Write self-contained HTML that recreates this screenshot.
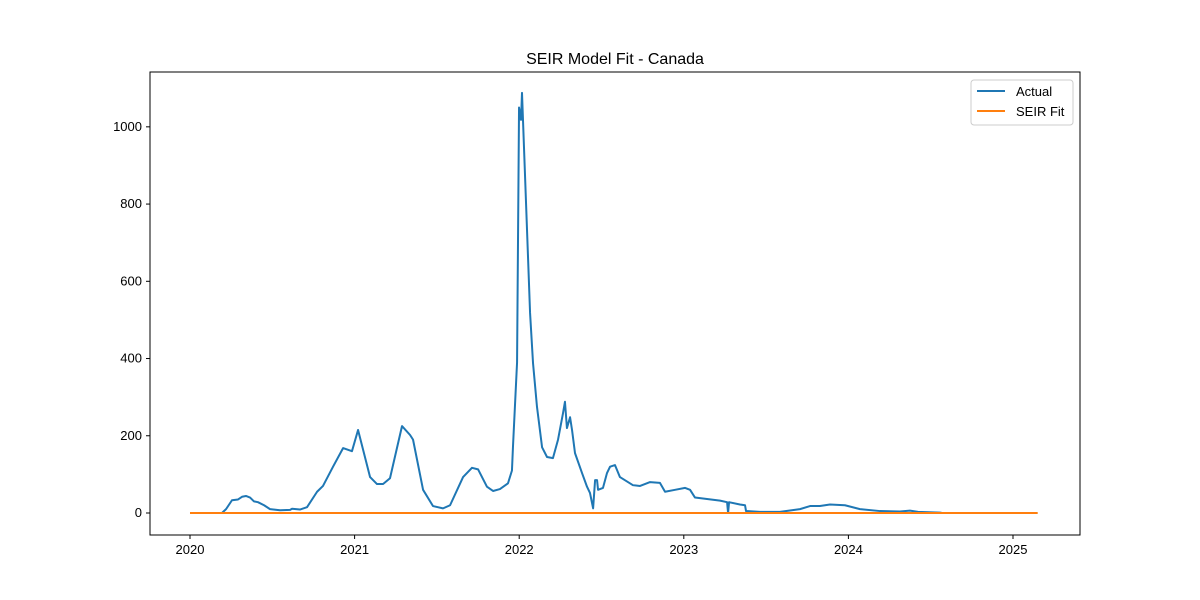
<!DOCTYPE html>
<html><head><meta charset="utf-8"><style>body{margin:0;background:#fff}svg{display:block;font-family:"Liberation Sans",sans-serif}</style></head>
<body>
<svg id="chart" width="1200" height="600"></svg>
<script>
const actualYears=[2020.194,2020.219,2020.255,2020.292,2020.316,2020.340,2020.365,2020.389,2020.413,2020.450,2020.486,2020.547,2020.608,2020.620,2020.668,2020.711,2020.772,2020.808,2020.869,2020.930,2020.984,2021.021,2021.094,2021.136,2021.173,2021.215,2021.288,2021.337,2021.355,2021.416,2021.476,2021.537,2021.580,2021.659,2021.713,2021.750,2021.804,2021.841,2021.883,2021.932,2021.956,2021.962,2021.987,2021.999,2022.011,2022.017,2022.029,2022.066,2022.084,2022.108,2022.139,2022.169,2022.205,2022.236,2022.266,2022.278,2022.290,2022.309,2022.321,2022.339,2022.382,2022.412,2022.430,2022.449,2022.461,2022.473,2022.479,2022.509,2022.533,2022.552,2022.582,2022.612,2022.691,2022.734,2022.795,2022.855,2022.886,2022.947,2023.008,2023.038,2023.068,2023.220,2023.263,2023.269,2023.275,2023.341,2023.372,2023.378,2023.463,2023.584,2023.706,2023.767,2023.827,2023.888,2023.979,2024.070,2024.192,2024.313,2024.374,2024.423,2024.557,2024.569];
const actualValues=[0,10,33,35,42,44,40,30,28,20,10,7,8,11,9,15,55,70,120,168,160,215,93,75,75,90,225,202,190,60,18,12,20,93,117,113,68,57,62,77,110,170,390,1050,1018,1088,948,518,388,275,170,145,142,190,258,288,220,248,215,155,103,68,52,12,85,85,60,65,103,120,124,93,72,70,80,78,55,60,65,60,40,32,28,0,28,22,20,5,3,3,10,18,18,22,20,10,5,4,6,3,1,0];
const fitYears=[2020.0,2025.15];
const fitValues=[0,0];
const yTicks=[0,200,400,600,800,1000];
const xTicks=[2020,2021,2022,2023,2024,2025];
const NS="http://www.w3.org/2000/svg";
const svg=document.getElementById('chart');
const L=150,R=1080,T=72,B=535;
const x0=2019.757,x1=2025.407,y0=-57,y1=1142;
const sx=v=>L+(v-x0)/(x1-x0)*(R-L);
const sy=v=>B-(v-y0)/(y1-y0)*(B-T);
function mk(tag,attrs,parent){const e=document.createElementNS(NS,tag);for(const k in attrs)e.setAttribute(k,attrs[k]);(parent||svg).appendChild(e);return e;}
let t=mk('text',{x:615,y:64,'text-anchor':'middle','font-size':16});t.textContent='SEIR Model Fit - Canada';


yTicks.forEach(v=>{const g=mk('g',{});


mk('line',{x1:L-4,x2:L,y1:sy(v),y2:sy(v),stroke:'#000'},g);
const tx=mk('text',{x:L-8,y:sy(v)+4,'text-anchor':'end','font-size':13},g);tx.textContent=v;});
xTicks.forEach(v=>{const g=mk('g',{});


mk('line',{x1:sx(v),x2:sx(v),y1:B,y2:B+4,stroke:'#000'},g);
const tx=mk('text',{x:sx(v),y:B+19,'text-anchor':'middle','font-size':13},g);tx.textContent=v;});
function line(xs,ys,color,name){const p=mk('polyline',{points:xs.map((x,i)=>sx(x)+','+sy(ys[i])).join(' '),fill:'none',stroke:color,'stroke-width':2,'stroke-linejoin':'round'});

}
line(actualYears,actualValues,'#1f77b4','actual-line');
line(fitYears,fitValues,'#ff7f0e','seir-fit-line');
const fr=mk('rect',{x:L,y:T,width:R-L,height:B-T,fill:'none',stroke:'#000','stroke-width':1});


const lg=mk('g',{});


mk('rect',{x:971,y:80,width:102,height:45,fill:'#fff',stroke:'#ccc',rx:3},lg);
[['Actual','#1f77b4'],['SEIR Fit','#ff7f0e']].forEach((e,i)=>{const g=mk('g',{},lg);


mk('line',{x1:977,x2:1005,y1:91+i*20,y2:91+i*20,stroke:e[1],'stroke-width':2},g);
const tx=mk('text',{x:1016,y:96+i*20,'font-size':13},g);tx.textContent=e[0];});
</script>
</body></html>
